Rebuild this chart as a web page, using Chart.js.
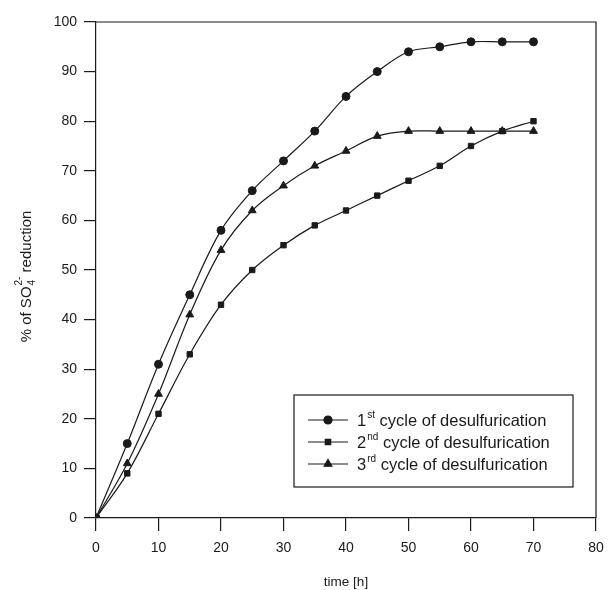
<!DOCTYPE html>
<html>
<head>
<meta charset="utf-8">
<script src="https://cdn.jsdelivr.net/npm/chart.js@4/dist/chart.umd.min.js"></script>
<style>
  html, body { margin: 0; padding: 0; background: #fff; }
  #wrap { width: 608px; height: 590px; }
</style>
</head>
<body>
<div id="wrap"><canvas id="desulfChart"></canvas></div>
<script>
// values
const timeH = [0, 5, 10, 15, 20, 25, 30, 35, 40, 45, 50, 55, 60, 65, 70];
const cycle1 = [0, 15, 31, 45, 58, 66, 72, 78, 85, 90, 94, 95, 96, 96, 96];
const cycle2 = [0, 9, 21, 33, 43, 50, 55, 59, 62, 65, 68, 71, 75, 78, 80];
const cycle3 = [0, 11, 25, 41, 54, 62, 67, 71, 74, 77, 78, 78, 78, 78, 78];
const legendNums = ['1', '2', '3'];
const legendSups = ['st', 'nd', 'rd'];
const legendText = ' cycle of desulfurication';
const markers = ['circle', 'rect', 'triangle'];

const ink = '#1a1a1a';
const fontFam = '"Liberation Sans", Arial, sans-serif';

function toPoints(vals) {
    return vals.map((v, i) => ({x: timeH[i], y: v}));
}

// top + right sides of the frame
const frameBox = {
    id: 'frameBox',
    afterDraw(chart) {
        const a = chart.chartArea;
        const ctx = chart.ctx;
        ctx.save();
        ctx.strokeStyle = ink;
        ctx.lineWidth = 1.2;
        ctx.beginPath();
        ctx.moveTo(a.left, a.top);
        ctx.lineTo(a.right, a.top);
        ctx.lineTo(a.right, a.bottom);
        ctx.stroke();
        ctx.restore();
    }
};

// y title with sub/superscript
const yTitle = {
    id: 'yTitle',
    afterDraw(chart) {
        const ctx = chart.ctx;
        ctx.save();
        ctx.translate(27, 277);
        ctx.rotate(-Math.PI / 2);
        ctx.fillStyle = ink;
        ctx.textBaseline = 'alphabetic';
        const big = '15px ' + fontFam, small = '10px ' + fontFam;
        ctx.font = big;
        const w1 = ctx.measureText('% of SO').width;
        const w3 = ctx.measureText(' reduction').width;
        ctx.font = small;
        const w2 = Math.max(ctx.measureText('4').width, ctx.measureText('2-').width);
        let x = -(w1 + w2 + w3) / 2;
        const base = 4;
        ctx.font = big;
        ctx.fillText('% of SO', x, base);
        x += w1;
        ctx.font = small;
        ctx.fillText('4', x + 1, base + 4);
        ctx.fillText('2-', x + 1, base - 9);
        x += w2 + 1;
        ctx.font = big;
        ctx.fillText(' reduction', x, base);
        ctx.restore();
    }
};

// boxed legend with superscript ordinals
const boxLegend = {
    id: 'boxLegend',
    afterDraw(chart) {
        const ctx = chart.ctx;
        ctx.save();
        ctx.strokeStyle = ink;
        ctx.lineWidth = 1.2;
        ctx.strokeRect(294, 395, 279, 92);
        const rows = [420, 442, 464];
        chart.data.datasets.forEach((ds, i) => {
            const y = rows[i];
            ctx.strokeStyle = ink;
            ctx.lineWidth = 1.2;
            ctx.beginPath();
            ctx.moveTo(308, y);
            ctx.lineTo(348, y);
            ctx.stroke();
            ctx.fillStyle = ink;
            Chart.helpers.drawPoint(ctx, {pointStyle: ds.pointStyle, radius: ds.pointRadius, borderWidth: 1}, 328, y);
            ctx.fill();
            ctx.fillStyle = ink;
            ctx.textBaseline = 'middle';
            let x = 357;
            ctx.font = '16.5px ' + fontFam;
            ctx.fillText(legendNums[i], x, y + 1);
            x += ctx.measureText(legendNums[i]).width + 1;
            ctx.font = '10px ' + fontFam;
            ctx.fillText(legendSups[i], x, y - 5);
            x += ctx.measureText(legendSups[i]).width;
            ctx.font = '16.5px ' + fontFam;
            ctx.fillText(legendText, x, y + 1);
        });
        ctx.restore();
    }
};

function series(vals, style, r) {
    return {
        data: toPoints(vals),
        borderColor: ink,
        backgroundColor: ink,
        borderWidth: 1.2,
        pointStyle: style,
        pointRadius: r,
        pointBorderWidth: 1,
        tension: 0.35,
        fill: false
    };
}

new Chart(document.getElementById('desulfChart'), {
    type: 'line',
    data: {
        datasets: [
            series(cycle1, markers[0], 4),
            series(cycle2, markers[1], 3.8),
            series(cycle3, markers[2], 4.5)
        ]
    },
    options: {
        responsive: true,
        maintainAspectRatio: false,
        animation: false,
        layout: {padding: {top: 22, right: 12, left: 0, bottom: 0}},
        plugins: {legend: {display: false}, tooltip: {enabled: false}},
        scales: {
            x: {
                type: 'linear',
                min: 0, max: 80,
                ticks: {stepSize: 10, color: ink, font: {size: 14, family: fontFam}, padding: 9, maxRotation: 0},
                grid: {display: true, drawOnChartArea: false, drawTicks: true, tickLength: 13, color: ink, lineWidth: 1.2},
                border: {display: true, color: ink, width: 1.2},
                title: {display: true, text: 'time [h]', color: ink, font: {size: 13.5, family: fontFam}, padding: {top: 0, bottom: 0}},
                afterFit(scale) {
                    scale.height = 72;
                    scale.paddingLeft = 0;
                    scale.paddingRight = 0;
                }
            },
            y: {
                min: 0, max: 100,
                ticks: {stepSize: 10, color: ink, font: {size: 14, family: fontFam}, padding: 7},
                grid: {display: true, drawOnChartArea: false, drawTicks: true, tickLength: 12, color: ink, lineWidth: 1.2},
                border: {display: true, color: ink, width: 1.2},
                afterFit(scale) {
                    scale.width = 96;
                    scale.paddingTop = 0;
                }
            }
        }
    },
    plugins: [frameBox, yTitle, boxLegend]
});
</script>
</body>
</html>
